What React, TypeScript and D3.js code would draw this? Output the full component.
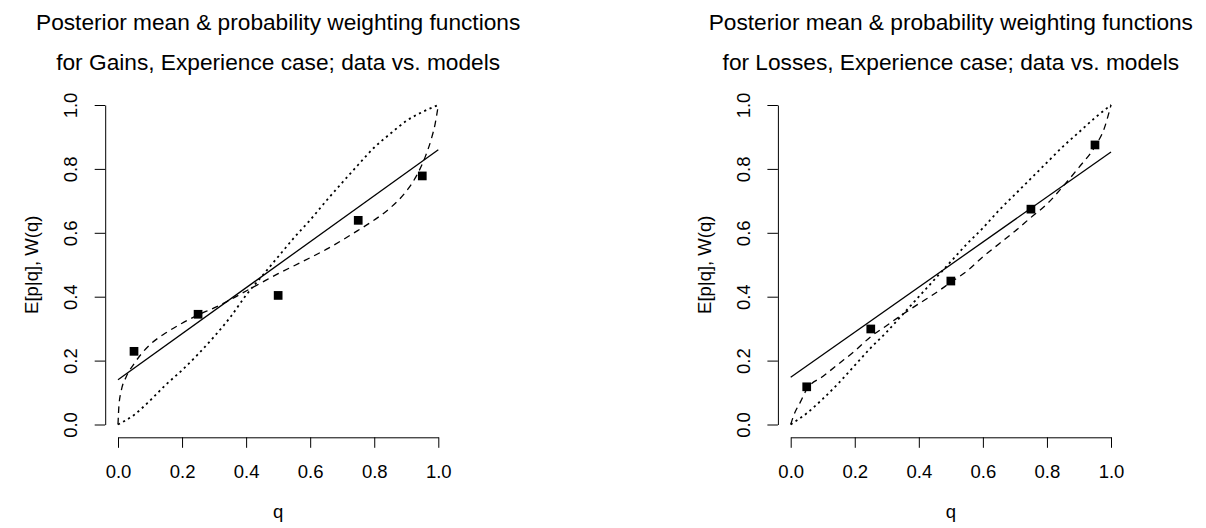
import { useRef, useEffect } from 'react'
import * as d3 from 'd3'

const FONT = "'Liberation Sans', Arial, Helvetica, sans-serif"

// tick values shared by both axes
const ticks = [0, 0.2, 0.4, 0.6, 0.8, 1]

const cases = ['Gains', 'Losses']

// observed posterior means at the five probabilities
const qObs = [0.05, 0.25, 0.5, 0.75, 0.95]
const gainsMean = [0.229, 0.345, 0.404, 0.639, 0.778]
const lossesMean = [0.118, 0.299, 0.449, 0.674, 0.875]

// straight-line fits (value at q=0 and q=1)
const fitQ = [0, 1]
const gainsFit = [0.14, 0.86]
const lossesFit = [0.148, 0.853]

// dashed model curves
const gainsDashQ = [0, 0.003, 0.01, 0.025, 0.05, 0.1, 0.15, 0.2, 0.25, 0.3, 0.35, 0.4, 0.45, 0.5, 0.55, 0.6, 0.65, 0.7, 0.75, 0.8, 0.85, 0.9, 0.93, 0.96, 0.98, 0.99, 1]
const gainsDashW = [0, 0.06, 0.105, 0.148, 0.19, 0.25, 0.287, 0.317, 0.343, 0.365, 0.39, 0.418, 0.445, 0.472, 0.497, 0.522, 0.548, 0.577, 0.608, 0.64, 0.678, 0.73, 0.775, 0.84, 0.9, 0.94, 1]
const lossesDashQ = [0, 0.01, 0.03, 0.05, 0.1, 0.15, 0.2, 0.25, 0.3, 0.35, 0.4, 0.45, 0.5, 0.55, 0.6, 0.65, 0.7, 0.75, 0.8, 0.85, 0.9, 0.95, 0.98, 1]
const lossesDashW = [0, 0.03, 0.07, 0.11, 0.15, 0.19, 0.23, 0.275, 0.31, 0.345, 0.378, 0.41, 0.445, 0.48, 0.525, 0.565, 0.605, 0.648, 0.69, 0.745, 0.805, 0.87, 0.93, 1]

// dotted model curves
const dotQ = [0, 0.05, 0.1, 0.15, 0.2, 0.25, 0.3, 0.35, 0.4, 0.45, 0.5, 0.55, 0.6, 0.65, 0.7, 0.75, 0.8, 0.85, 0.9, 0.95, 1]
const gainsDotW = [0, 0.03, 0.075, 0.125, 0.17, 0.22, 0.275, 0.335, 0.405, 0.465, 0.525, 0.585, 0.64, 0.7, 0.757, 0.813, 0.867, 0.91, 0.95, 0.978, 1]
const lossesDotW = [0, 0.035, 0.08, 0.13, 0.185, 0.24, 0.29, 0.345, 0.4, 0.455, 0.51, 0.565, 0.615, 0.67, 0.72, 0.77, 0.82, 0.87, 0.915, 0.96, 1]

const panels = [
  { x0: 118, name: cases[0], mean: gainsMean, fit: gainsFit, dashQ: gainsDashQ, dashW: gainsDashW, dotW: gainsDotW },
  { x0: 790.7, name: cases[1], mean: lossesMean, fit: lossesFit, dashQ: lossesDashQ, dashW: lossesDashW, dotW: lossesDotW },
]

function drawPanel(svg: any, p: any) {
  const x = d3.scaleLinear().domain([0, 1]).range([p.x0, p.x0 + 320.3])
  const y = d3.scaleLinear().domain([0, 1]).range([424.5, 105])
  const pad = 12.8
  const g = svg.append('g')

  // x axis
  const xa = g
    .append('g')
    .attr('transform', `translate(0,${y(0) + pad})`)
    .call(d3.axisBottom(x).tickValues(ticks).tickSize(10.5).tickSizeOuter(0).tickFormat(d3.format('.1f')))
  xa.attr('font-size', 18.5).attr('font-family', FONT).attr('color', '#000')
  xa.selectAll('text').attr('y', 41).attr('dy', null)

  // y axis
  const ya = g
    .append('g')
    .attr('transform', `translate(${x(0) - pad},0)`)
    .call(d3.axisLeft(y).tickValues(ticks).tickSize(10.5).tickSizeOuter(0).tickFormat(d3.format('.1f')))
  ya.attr('font-size', 18.5).attr('font-family', FONT).attr('color', '#000')
  ya.selectAll('text')
    .attr('x', null)
    .attr('dy', null)
    .attr('text-anchor', 'middle')
    .attr('transform', 'translate(-28,0) rotate(-90)')

  // titles
  const cx = x(0.5)
  g.append('text')
    .attr('x', cx)
    .attr('y', 30)
    .attr('text-anchor', 'middle')
    .attr('font-size', 22.7)
    .attr('font-family', FONT)
    .text('Posterior mean & probability weighting functions')
  g.append('text')
    .attr('x', cx)
    .attr('y', 70)
    .attr('text-anchor', 'middle')
    .attr('font-size', 22.7)
    .attr('font-family', FONT)
    .text(`for ${p.name}, Experience case; data vs. models`)

  // axis labels
  g.append('text')
    .attr('x', cx)
    .attr('y', 518)
    .attr('text-anchor', 'middle')
    .attr('font-size', 18.5)
    .attr('font-family', FONT)
    .text('q')
  g.append('text')
    .attr('transform', `translate(${x(0) - pad - 67.4},${y(0.5)}) rotate(-90)`)
    .attr('text-anchor', 'middle')
    .attr('font-size', 18.5)
    .attr('font-family', FONT)
    .text('E[p|q], W(q)')

  // data squares
  const s = 8.7
  g.selectAll('.pt')
    .data(p.mean)
    .join('rect')
    .attr('class', 'pt')
    .attr('x', (_: number, i: number) => x(qObs[i]) - s / 2)
    .attr('y', (d: number) => y(d) - s / 2)
    .attr('width', s)
    .attr('height', s)
    .attr('fill', '#000')

  const curve = (qs: number[]) =>
    d3
      .line<number>()
      .x((_, i) => x(qs[i]))
      .y((d) => y(d))
      .curve(d3.curveMonotoneX)

  // fitted line
  g.append('path')
    .attr('d', curve(fitQ)(p.fit))
    .attr('fill', 'none')
    .attr('stroke', '#000')
    .attr('stroke-width', 1.3)

  // dashed model
  g.append('path')
    .attr('d', curve(p.dashQ)(p.dashW))
    .attr('fill', 'none')
    .attr('stroke', '#000')
    .attr('stroke-width', 1.3)
    .attr('stroke-dasharray', '6.5,5')

  // dotted model
  g.append('path')
    .attr('d', curve(dotQ)(p.dotW))
    .attr('fill', 'none')
    .attr('stroke', '#000')
    .attr('stroke-width', 1.8)
    .attr('stroke-dasharray', '2.2,3.6')
}

export default function App() {
  const svgRef = useRef<SVGSVGElement>(null)

  useEffect(() => {
    if (!svgRef.current) return
    const svg = d3.select(svgRef.current)
    svg.selectAll('*').remove()
    panels.forEach((p) => drawPanel(svg, p))
  }, [])

  return (
    <svg
      ref={svgRef}
      width={1206}
      height={528}
      style={{ position: 'absolute', left: 0, top: 0, background: '#fff', display: 'block' }}
    />
  )
}
